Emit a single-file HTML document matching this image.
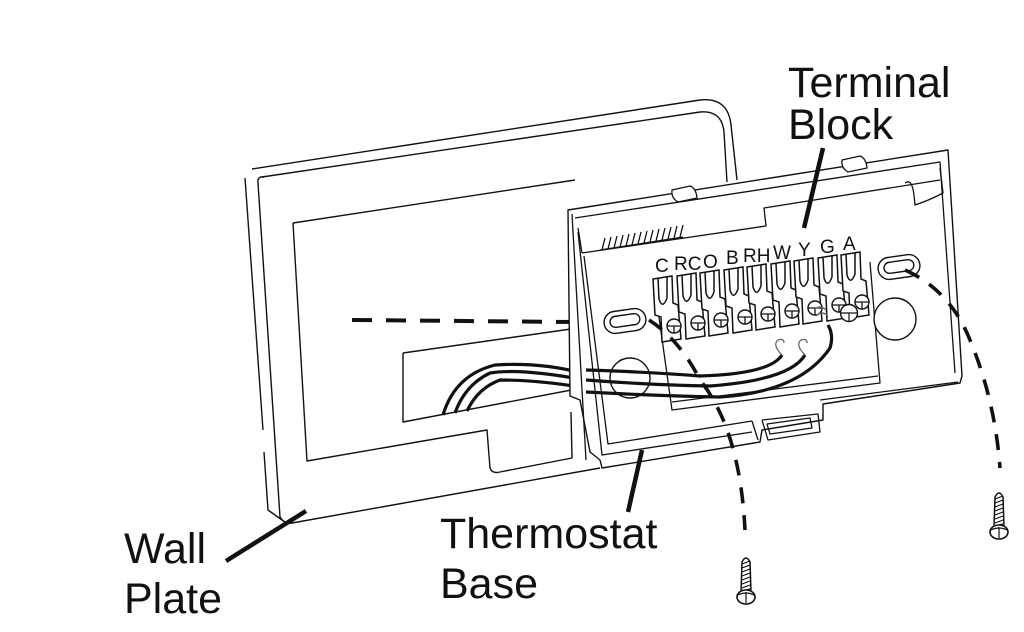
<!DOCTYPE html>
<html><head><meta charset="utf-8"><style>
html,body{margin:0;padding:0;background:#fff;}
svg{display:block}
text{font-family:"Liberation Sans",Arial,sans-serif;fill:#111}
</style></head><body>
<svg width="1024" height="632" viewBox="0 0 1024 632" xmlns="http://www.w3.org/2000/svg">
<defs>
<g id="tab">
  <path d="M0,0 L19,-3 L20,24 L25,26 L28,60 L9,63 L8,38 L2,36 Z" fill="#fff" stroke="#111" stroke-width="1.5"/>
  <path d="M5,-1 L6,20 Q9.5,31 14,19 L14,-2" fill="none" stroke="#111" stroke-width="1.5"/>
  <circle cx="21" cy="47" r="7" fill="#fff" stroke="#111" stroke-width="1.4"/>
  <path d="M14,47 L28,47 M21,47 L21,54" stroke="#111" stroke-width="1.3" fill="none"/>
</g>
<g id="screw">
  <path d="M-4,-28 Q0,-36 4,-28 L5,2 L-5,2 Z" fill="#fff" stroke="#111" stroke-width="1.5"/>
  <path d="M-4,-26 L4,-29 M-4,-22 L4,-25 M-4,-18 L4,-21 M-4,-14 L4,-17 M-4,-10 L4,-13 M-4,-6 L4,-9 M-4,-2 L4,-5 M-4,1 L4,-1" stroke="#111" stroke-width="1.2"/>
  <ellipse cx="0" cy="7" rx="9" ry="7" fill="#fff" stroke="#111" stroke-width="1.6"/>
  <path d="M-8,5 Q0,1 8,5 M0,2 L0,13" stroke="#111" stroke-width="1.2" fill="none"/>
</g>
</defs>
<g fill="none" stroke="#111" stroke-width="1.4" stroke-linejoin="round">
<path d="M252,169 L700,100 Q728,97 731,125 L737,180"/>
<path d="M262,177 L700,112 Q722,110 724,132 L727,182"/>
<path d="M245,178 L263,430 M264,452 L268,510 L282,520"/>
<path d="M258,183 Q257,176 264,177 M258,183 L280,517 Q284,524 292,523 L600,468"/>
<path d="M293,223 L575,180 M293,223 L307,461 L487,430 L490,468 Q492,474 500,472 L572,458 L571,412"/>
<path d="M403,353 L578,328 M403,353 L403,422 L582,388"/>
</g>
<path d="M352,320 L576,322" stroke="#111" stroke-width="4" stroke-dasharray="20,14" fill="none"/>
<g fill="none" stroke="#111" stroke-width="3.2">
<path d="M443,415 Q455,375 495,365 Q540,362 582,373"/>
<path d="M455,413 Q465,385 490,373 Q520,368 585,380"/>
<path d="M467,411 Q478,388 500,380 Q540,380 585,388"/>
</g>
<g fill="#fff" stroke="#111" stroke-width="1.4" stroke-linejoin="round">
<path d="M568,210 L948,150 L962,376 L960,383 L823,404 L823,420 L762,430 L760,442 L602,468 L600,460 L590,452 L580,400 L570,396 Z"/>
</g>
<g fill="none" stroke="#111" stroke-width="1.3" stroke-linejoin="round">
<path d="M572,214 L586,460"/>
<path d="M575,218 L940,162 L955,373"/>
<path d="M578,228 L582,253 M582,253 L766,226 L764,208 L940,180"/>
<path d="M578,232 L602,455 L752,432"/>
<path d="M584,256 L608,444 L752,421"/>
<path d="M656,296 L672,410 L880,383 L870,262"/>
<path d="M672,402 L878,376"/>
<path d="M752,421 L758,440 M762,420 L768,440 L820,432 L818,414 L762,420"/>
<path d="M767,424 L810,418 L812,428 L770,434 Z"/>
<path d="M820,400 L958,382"/>
<path d="M905,183 Q912,178 914,195 L915,205 Q930,200 943,193 L940,168"/>
<path d="M602,250 L605,238 M608,249 L611,237 M614,248 L617,236 M620,247 L623,235 M626,246 L629,234 M632,245 L635,233 M638,244 L641,232 M644,243 L647,231 M650,242 L653,230 M656,241 L659,229 M662,240 L665,228 M668,239 L671,227 M674,238 L677,226 M680,237 L683,225"/>
<path d="M600,250 L683,237"/>
</g>
<g fill="#fff" stroke="#111" stroke-width="1.3">
<path d="M672,190 L690,186 Q696,188 697,198 L678,202 Q671,198 672,190 Z"/>
<path d="M842,160 L860,156 Q866,158 867,168 L848,172 Q841,168 842,160 Z"/>
</g>
<g fill="#fff" stroke="#111" stroke-width="1.4">
<rect x="604" y="310" width="42" height="22" rx="11" transform="rotate(-8 625 321)"/>
<rect x="610" y="315" width="30" height="11" rx="5.5" transform="rotate(-8 625 321)"/>
<rect x="878" y="256" width="42" height="22" rx="11" transform="rotate(-8 899 267)"/>
<rect x="884" y="261" width="30" height="11" rx="5.5" transform="rotate(-8 899 267)"/>
<circle cx="630" cy="378" r="20"/>
<circle cx="895" cy="319" r="21"/>
</g>
<use href="#tab" transform="translate(653,279)"/>
<use href="#tab" transform="translate(677,276)"/>
<use href="#tab" transform="translate(700,273)"/>
<use href="#tab" transform="translate(724,270)"/>
<use href="#tab" transform="translate(747,267)"/>
<use href="#tab" transform="translate(771,264)"/>
<use href="#tab" transform="translate(794,261)"/>
<use href="#tab" transform="translate(818,258)"/>
<use href="#tab" transform="translate(841,255)"/>
<circle cx="849" cy="313" r="8.5" fill="#fff" stroke="#111" stroke-width="1.4"/>
<path d="M841,313 L857,313 M849,313 L849,321" stroke="#111" stroke-width="1.2"/>
<g font-size="19">
<text x="655" y="272">C</text>
<text x="674" y="270">RC</text>
<text x="703" y="268">O</text>
<text x="726" y="264">B</text>
<text x="743" y="262">RH</text>
<text x="773" y="259">W</text>
<text x="798" y="256">Y</text>
<text x="820" y="253">G</text>
<text x="843" y="250">A</text>
</g>
<g fill="none" stroke="#111" stroke-width="3.2">
<path d="M586,370 Q650,372 700,376 Q770,374 782,355"/>
<path d="M586,380 Q650,385 710,386 Q790,380 805,355"/>
<path d="M586,392 Q660,396 720,397 Q800,392 830,348 Q834,335 828,325"/>
</g>
<g fill="none" stroke="#666" stroke-width="1.3">
<path d="M782,355 Q772,345 778,340 Q784,338 784,343"/>
<path d="M805,355 Q795,345 801,340 Q807,338 807,343"/>
<path d="M814,310 Q820,304 826,310 M816,316 Q822,310 828,316"/>
</g>
<g fill="none" stroke="#111" stroke-width="3.6" stroke-dasharray="16,12">
<path d="M649,320 Q680,340 700,380 Q740,430 745,530"/>
<path d="M905,270 Q950,290 970,340 Q995,400 1000,468"/>
</g>
<use href="#screw" transform="translate(746,590)"/>
<use href="#screw" transform="translate(999,525)"/>
<g stroke="#111" stroke-width="4.5" fill="none">
<path d="M823,148 L804,228"/>
<path d="M642,450 L628,512"/>
<path d="M226,561 L306,511"/>
</g>
<g font-size="43">
<text x="788" y="97">Terminal</text>
<text x="788" y="139">Block</text>
<text x="124" y="563">Wall</text>
<text x="124" y="613">Plate</text>
<text x="440" y="548">Thermostat</text>
<text x="440" y="598">Base</text>
</g>
</svg>
</body></html>
